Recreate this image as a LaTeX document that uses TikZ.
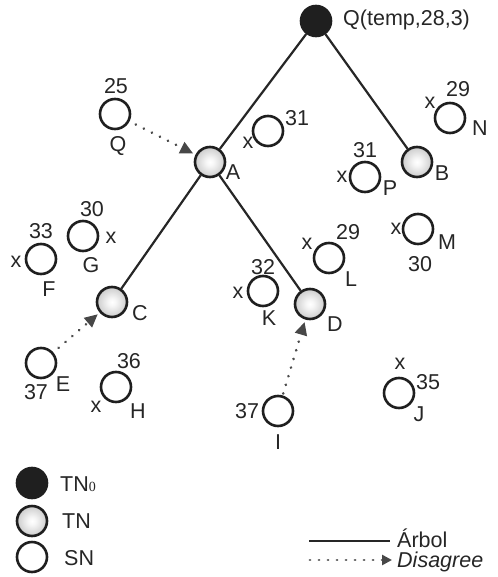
\documentclass[tikz,border=0pt]{standalone}
\usepackage{fontspec}
\setmainfont{Liberation Sans}
\newfontfamily\subfont{Liberation Serif}
\usetikzlibrary{arrows.meta}
% grey ball used for the tree nodes
\pgfdeclareradialshading{tnball}{\pgfpoint{0bp}{0bp}}{color(0bp)=(white); color(6bp)=(white!97!black); color(50bp)=(black!42)}
\begin{document}
\begin{tikzpicture}[x=1pt,y=-1pt,
  base/.style={circle,minimum size=30pt,inner sep=0pt,line width=2.6pt,draw=black!88},
  tnzero/.style={base,fill=black!88},
  tnode/.style={base,shading=tnball},
  snode/.style={base,fill=white},
  lbl/.style={inner sep=0pt,font=\fontsize{21.5}{24}\selectfont,text=black!85},
  tree/.style={line width=2.2pt,draw=black!85},
  disagree/.style={line width=2.9pt,draw=black!70,dash pattern=on 0.01pt off 9pt,line cap=round,
    -{Triangle[length=13pt,width=12pt,color=black!72,line cap=butt]},shorten >=2.5pt,shorten <=7pt}
]
\useasboundingbox (0,0) rectangle (497,577);

% tree nodes
\node[tnzero] (root) at (316,21) {};
\node[tnode] (A) at (210,162) {};
\node[tnode] (B) at (417,162) {};
\node[tnode] (C) at (112,302) {};
\node[tnode] (D) at (310,304) {};

% tree edges
\draw[tree] (root) -- (A);
\draw[tree] (root) -- (B);
\draw[tree] (A) -- (C);
\draw[tree] (A) -- (D);

% tree labels
\node[lbl,anchor=base west] (rootlbl) at (343,26) {Q(temp,28,3)};
\node[lbl] (Albl) at (233,172) {A};
\node[lbl] (Blbl) at (442,173) {B};
\node[lbl] (Clbl) at (140,313) {C};
\node[lbl] (Dlbl) at (335,324) {D};

% sensor nodes
\node[snode] (Q) at (115,114) {};
\node[lbl] (Qv) at (116,86) {25};
\node[lbl] (Qn) at (118,146) {Q};

\node[snode] (S31) at (268,131) {};
\node[lbl] (S31x) at (248,143) {x};
\node[lbl] (S31v) at (297,118) {31};

\node[snode] (N) at (450,118) {};
\node[lbl] (Nx) at (430,103) {x};
\node[lbl] (Nv) at (458,89) {29};
\node[lbl] (Nn) at (480,128) {N};

\node[snode] (P) at (365,177) {};
\node[lbl] (Px) at (342,177) {x};
\node[lbl] (Pv) at (365,150) {31};
\node[lbl] (Pn) at (390,188) {P};

\node[snode] (G) at (83,236) {};
\node[lbl] (Gv) at (92,209) {30};
\node[lbl] (Gx) at (111,238) {x};
\node[lbl] (Gn) at (91,265) {G};

\node[snode] (F) at (41,259) {};
\node[lbl] (Fv) at (41,231) {33};
\node[lbl] (Fx) at (16,262) {x};
\node[lbl] (Fn) at (49,289) {F};

\node[snode] (E) at (41,363) {};
\node[lbl] (Ev) at (36,392) {37};
\node[lbl] (En) at (63,384) {E};

\node[snode] (H) at (116,387) {};
\node[lbl] (Hv) at (129,361) {36};
\node[lbl] (Hx) at (96,407) {x};
\node[lbl] (Hn) at (138,411) {H};

\node[snode] (K) at (263,291) {};
\node[lbl] (Kv) at (263,267) {32};
\node[lbl] (Kx) at (238,293) {x};
\node[lbl] (Kn) at (269,318) {K};

\node[snode] (L) at (329,258) {};
\node[lbl] (Lx) at (307,244) {x};
\node[lbl] (Lv) at (348,232) {29};
\node[lbl] (Ln) at (351,279) {L};

\node[snode] (M) at (418,229) {};
\node[lbl] (Mx) at (396,229) {x};
\node[lbl] (Mn) at (447,242) {M};
\node[lbl] (Mv) at (420,264) {30};

\node[snode] (J) at (399,393) {};
\node[lbl] (Jx) at (400,364) {x};
\node[lbl] (Jv) at (428,382) {35};
\node[lbl] (Jn) at (419,414) {J};

\node[snode] (I) at (278,411) {};
\node[lbl] (Iv) at (247,411) {37};
\node[lbl] (In) at (278,442) {I};

% disagree messages
\draw[disagree] (Q) -- (A);
\draw[disagree] (E) -- (C);
\draw[disagree,shorten <=2pt] (I) -- (D);

% legend
\node[tnzero] (lg0) at (32,483) {};
\node[tnode] (lg1) at (32,521) {};
\node[snode] (lg2) at (32,557) {};
\node[lbl,anchor=base west] (lg0t) at (60,491) {TN{\subfont\fontsize{14}{14}\selectfont 0}};
\node[lbl,anchor=base west] (lg1t) at (62,528) {TN};
\node[lbl,anchor=base west] (lg2t) at (64,565) {SN};

\coordinate (ls1) at (309,541);
\coordinate (ls2) at (390,541);
\draw[tree] (ls1) -- (ls2);
\node[lbl,anchor=base west] (lst) at (397,547) {Árbol};

\coordinate (ld1) at (310,560);
\coordinate (ld2) at (392,560);
\draw[disagree,shorten <=0pt,shorten >=0pt,-{Triangle[length=10pt,width=10pt,color=black!72]}] (ld1) -- (ld2);
\node[lbl,anchor=base west] (ldt) at (397,567) {\itshape Disagree};
\end{tikzpicture}
\end{document}
